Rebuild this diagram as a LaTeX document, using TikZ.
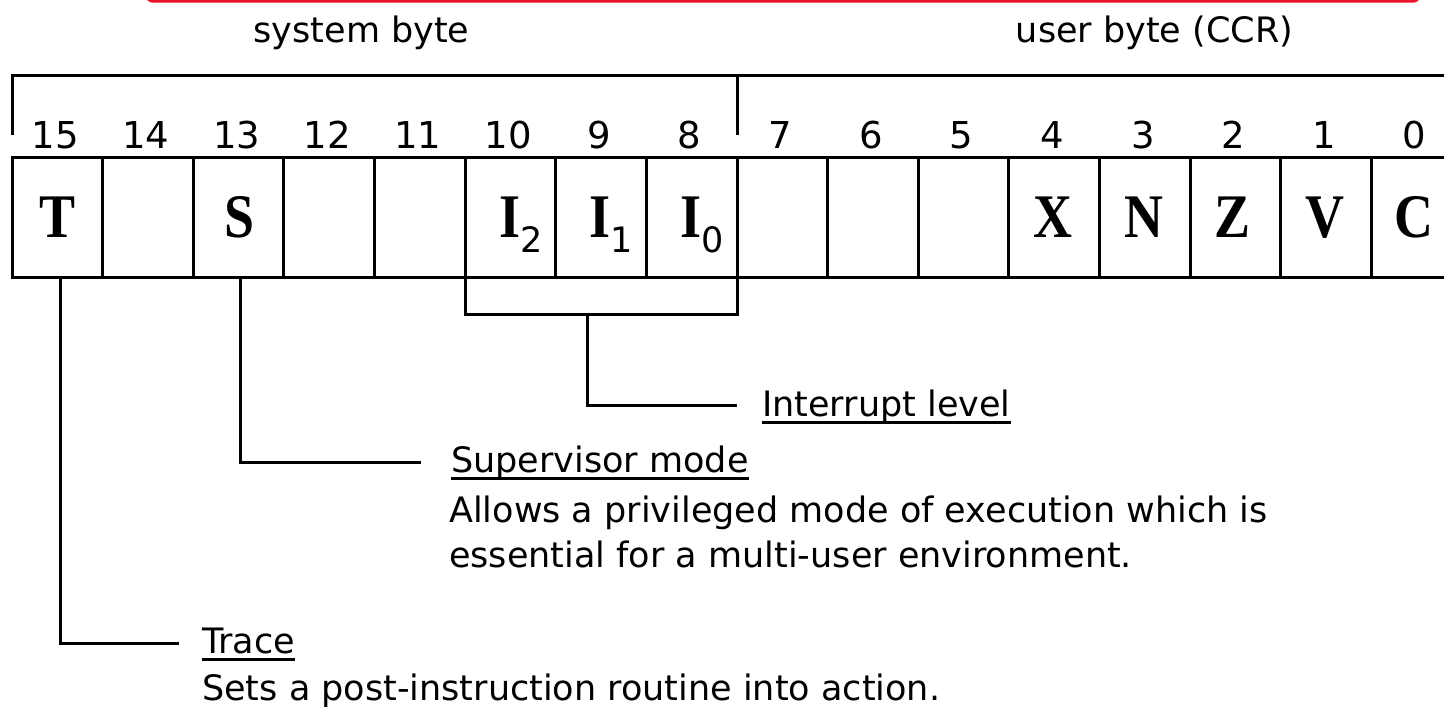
\documentclass[tikz,border=0pt]{standalone}
\usepackage{fontspec}
\usepackage{graphicx}
\setmainfont{DejaVu Sans}
\newfontfamily\flagfont{Liberation Serif}
\definecolor{framered}{RGB}{232,18,42}

\tikzset{
  cellbox/.style={draw, line width=3pt, minimum width=90.625pt, minimum height=120pt,
                  inner sep=0pt, outer sep=0pt},
  bitnum/.style={anchor=base, inner sep=0pt, font=\fontsize{37}{40}\selectfont},
  flag/.style={anchor=base, inner sep=0pt, font=\flagfont\bfseries\fontsize{62}{62}\selectfont},
  caption/.style={anchor=base west, inner sep=0pt, font=\fontsize{35}{42}\selectfont},
  wire/.style={line width=3pt},
  uline/.style={line width=2.5pt},
}
% narrow bold register letter, optionally with a sans subscript
\newcommand{\flagchar}[1]{\scalebox{0.87}[1]{#1}}
\newcommand{\flagsub}[2]{\scalebox{0.87}[1]{#1}\raisebox{-15pt}{\normalfont\fontsize{35}{35}\selectfont #2}}

\begin{document}
\begin{tikzpicture}[x=1pt, y=-1pt]
  \useasboundingbox (0,0) rectangle (1444,707);
  \clip (0,0) rectangle (1444,707);
  \fill[white] (0,0) rectangle (1444,707);

  % red frame edge along the top
  \draw[line width=3pt, framered, rounded corners=6pt] (147,-30) rectangle (1419,1.2);

  % byte headings
  \node[caption, anchor=base] (sysbyte) at (361.5,42) {system byte};
  \node[caption, anchor=base] (usrbyte) at (1154.5,42) {user byte (CCR)};

  % byte bracket above the bit numbers
  \coordinate (brL) at (12,135);
  \coordinate (brM) at (737,135);
  \draw[wire] (brL) -- (12,75) -- (1460,75);
  \draw[wire] (737,75) -- (brM);

  % register cells and bit numbers
  \foreach \k in {0,...,15} {
    \pgfmathsetmacro\cx{12+(15-\k+0.5)*90.625}
    \node[cellbox] (c\k) at (\cx,217) {};
    \node[bitnum] (n\k) at (\cx-2,148) {\k};
  }

  % flag letters
  \node[flag] (f15) at (57.3,237) {\flagchar{T}};
  \node[flag] (f13) at (239.5,237) {\flagchar{S}};
  \node[flag, anchor=base west] (f10) at (499,237) {\flagsub{I}{2}};
  \node[flag, anchor=base west] (f9) at (589.5,237) {\flagsub{I}{1}};
  \node[flag, anchor=base west] (f8) at (680,237) {\flagsub{I}{0}};
  \node[flag] (f4) at (1053,237) {\flagchar{X}};
  \node[flag] (f3) at (1144,237) {\flagchar{N}};
  \node[flag] (f2) at (1232,237) {\flagchar{Z}};
  \node[flag] (f1) at (1325,237) {\flagchar{V}};
  \node[flag] (f0) at (1414,237) {\flagchar{C}};

  % descriptions
  \node[caption] (irq) at (762,416) {Interrupt level};
  \node[caption] (sup) at (451,472) {Supervisor mode};
  \node[caption] (supd1) at (449,522) {Allows a privileged mode of execution which is};
  \node[caption] (supd2) at (449,567) {essential for a multi-user environment.};
  \node[caption] (trc) at (202,653) {Trace};
  \node[caption] (trcd) at (202,700) {Sets a post-instruction routine into action.};

  % underlined headings
  \foreach \n in {irq,sup,trc}
    \draw[uline] ([yshift=-6.5pt]\n.base west) -- ([yshift=-6.5pt]\n.base east);

  % interrupt level bracket
  \coordinate (irqstem) at (587,314);
  \draw[wire] (c10.south west) -- (c10.south west |- irqstem)
              -- (c8.south east |- irqstem) -- (c8.south east);
  \draw[wire] (irqstem) |- ([xshift=-25pt, yshift=11pt]irq.base west);

  % supervisor and trace leaders
  \draw[wire] ([xshift=1.5pt]c13.south) |- ([xshift=-30pt, yshift=10pt]sup.base west);
  \draw[wire] ([xshift=3.5pt]c15.south) |- ([xshift=-23pt, yshift=10pt]trc.base west);
\end{tikzpicture}
\end{document}
